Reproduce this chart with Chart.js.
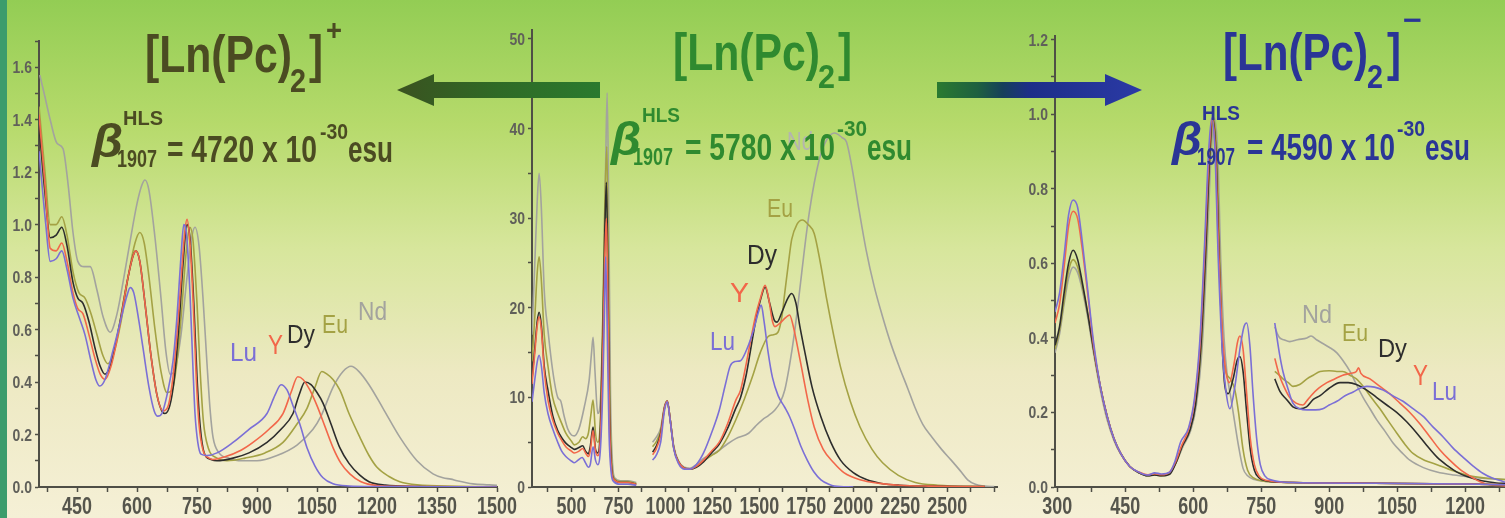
<!DOCTYPE html>
<html>
<head>
<meta charset="utf-8">
<script src="https://cdn.jsdelivr.net/npm/chart.js@4.4.1/dist/chart.umd.min.js"></script>
<style>
  html, body { margin: 0; padding: 0; }
  body {
    width: 1505px; height: 518px; position: relative; overflow: hidden;
    background: linear-gradient(180deg, #93cd54 0%, #b6da6b 24%, #d7e69c 48%, #ede9c2 72%, #f5f0d6 100%);
  }
  #strip { position: absolute; left: 0; top: 0; width: 7px; height: 518px; background: #3c9c6c; }
  canvas { position: absolute; top: 0; }
  #c1 { left: 0; }
  #c2 { left: 490px; }
  #c3 { left: 1010px; }
  svg { position: absolute; left: 0; top: 0; }
  .tx { position: absolute; white-space: nowrap; line-height: 1; transform-origin: 0 0;
        font-family: "Liberation Sans", Arial, sans-serif; }
</style>
</head>
<body>
<div id="strip"></div>
<canvas id="c1" width="520" height="518"></canvas>
<canvas id="c2" width="530" height="518"></canvas>
<canvas id="c3" width="495" height="518"></canvas>
<svg width="1505" height="518">
  <defs>
    <linearGradient id="gl" x1="397" y1="0" x2="600" y2="0" gradientUnits="userSpaceOnUse">
      <stop offset="0" stop-color="#3a5220"/>
      <stop offset="0.5" stop-color="#2f6a26"/>
      <stop offset="1" stop-color="#2a7a2e"/>
    </linearGradient>
    <linearGradient id="gr" x1="937" y1="0" x2="1142" y2="0" gradientUnits="userSpaceOnUse">
      <stop offset="0" stop-color="#2a7a30"/>
      <stop offset="0.2" stop-color="#1e6040"/>
      <stop offset="0.32" stop-color="#16405a"/>
      <stop offset="0.45" stop-color="#1c2e88"/>
      <stop offset="1" stop-color="#2b3aa6"/>
    </linearGradient>
  </defs>
  <polygon points="397,90 434,74 434,82 600,82 600,98 434,98 434,106" fill="url(#gl)"/>
  <polygon points="937,82 1105,82 1105,74 1142,90 1105,106 1105,98 937,98" fill="url(#gr)"/>
</svg>
<script>
// series shared by all three panels
const seriesNames = ["Lu", "Y", "Dy", "Eu", "Nd"];
const seriesColors = ["#7b6fd6", "#f2674a", "#2d2d2d", "#a4a244", "#a3a39e"];

// panel 1: [Ln(Pc)2]+  (wavelength nm, absorbance)
const p1Lu = [[355,1.28],[372,1.0],[383,0.86],[398,0.87],[412,0.90],[425,0.83],[440,0.72],[457,0.64],[470,0.58],[485,0.48],[497,0.41],[507,0.385],[520,0.41],[540,0.52],[560,0.64],[575,0.73],[583,0.76],[592,0.74],[605,0.63],[615,0.53],[630,0.38],[643,0.29],[652,0.27],[662,0.28],[675,0.35],[690,0.48],[700,0.65],[710,0.88],[717,1.0],[724,0.96],[733,0.72],[740,0.45],[745,0.28],[752,0.17],[760,0.125],[775,0.12],[800,0.13],[840,0.17],[880,0.22],[925,0.28],[945,0.35],[960,0.39],[975,0.37],[990,0.31],[1007,0.24],[1025,0.15],[1045,0.08],[1065,0.035],[1090,0.012],[1130,0.004],[1200,0.002],[1500,0.0]];
const p1Y = [[355,1.42],[370,1.15],[383,0.91],[398,0.90],[412,0.93],[425,0.86],[440,0.74],[452,0.68],[465,0.66],[480,0.58],[495,0.49],[508,0.43],[520,0.41],[535,0.46],[555,0.6],[575,0.78],[590,0.88],[597,0.90],[607,0.86],[620,0.70],[635,0.50],[650,0.35],[665,0.29],[678,0.31],[690,0.42],[702,0.62],[712,0.83],[720,0.98],[725,1.02],[732,0.94],[740,0.72],[748,0.42],[755,0.24],[765,0.14],[780,0.11],[790,0.105],[820,0.115],[860,0.14],[890,0.17],[930,0.22],[965,0.28],[985,0.36],[1002,0.42],[1015,0.41],[1032,0.37],[1050,0.31],[1070,0.23],[1090,0.15],[1110,0.09],[1132,0.05],[1160,0.02],[1200,0.006],[1300,0.002],[1500,0.0]];
const p1Dy = [[355,1.38],[370,1.12],[383,0.95],[398,0.96],[412,0.99],[425,0.92],[440,0.78],[452,0.72],[465,0.70],[480,0.63],[495,0.53],[508,0.46],[520,0.43],[535,0.47],[555,0.61],[575,0.78],[590,0.88],[597,0.90],[607,0.86],[620,0.70],[635,0.50],[650,0.35],[662,0.29],[670,0.28],[682,0.31],[693,0.41],[705,0.62],[715,0.85],[725,1.0],[733,0.94],[742,0.7],[750,0.42],[758,0.23],[768,0.13],[785,0.105],[800,0.10],[840,0.11],[880,0.13],[925,0.17],[960,0.22],[990,0.28],[1005,0.35],[1020,0.40],[1035,0.39],[1050,0.36],[1065,0.32],[1085,0.24],[1107,0.15],[1130,0.09],[1157,0.045],[1180,0.02],[1220,0.007],[1300,0.002],[1500,0.0]];
const p1Eu = [[355,1.45],[370,1.2],[383,1.0],[398,1.0],[412,1.03],[425,0.96],[440,0.82],[455,0.74],[470,0.72],[485,0.66],[500,0.58],[515,0.50],[527,0.47],[540,0.5],[560,0.63],[580,0.82],[595,0.93],[607,0.97],[618,0.93],[630,0.80],[645,0.60],[660,0.44],[675,0.36],[688,0.37],[700,0.48],[712,0.68],[722,0.88],[732,0.99],[740,0.94],[750,0.70],[758,0.44],[766,0.25],[778,0.15],[800,0.11],[825,0.10],[870,0.11],[920,0.13],[965,0.17],[1000,0.24],[1025,0.30],[1045,0.38],[1062,0.44],[1075,0.43],[1090,0.41],[1107,0.37],[1130,0.28],[1157,0.19],[1180,0.12],[1200,0.075],[1230,0.04],[1257,0.02],[1300,0.008],[1400,0.003],[1500,0.0]];
const p1Nd = [[357,1.57],[368,1.5],[383,1.40],[400,1.31],[415,1.29],[428,1.15],[440,0.97],[452,0.86],[468,0.84],[483,0.84],[500,0.75],[515,0.65],[533,0.59],[550,0.66],[565,0.78],[582,0.93],[600,1.08],[612,1.15],[620,1.17],[630,1.13],[645,0.95],[660,0.72],[672,0.52],[683,0.43],[695,0.45],[710,0.58],[725,0.80],[738,0.96],[745,0.99],[755,0.92],[765,0.72],[775,0.47],[783,0.29],[790,0.19],[805,0.13],[830,0.11],[860,0.10],[900,0.10],[950,0.12],[1000,0.16],[1040,0.22],[1060,0.27],[1090,0.38],[1115,0.44],[1135,0.46],[1155,0.44],[1180,0.39],[1215,0.30],[1257,0.19],[1300,0.10],[1340,0.05],[1365,0.035],[1385,0.03],[1400,0.024],[1440,0.012],[1480,0.008],[1500,0.006]];

// panel 2: [Ln(Pc)2]  UV-vis part and NIR part
const p2UvLu = [[290,9.5],[305,12],[318,14],[328,14.7],[340,13.5],[355,10.5],[375,8.2],[400,6.5],[427,5.0],[448,4.0],[470,3.4],[500,2.9],[515,2.7],[535,3.0],[557,3.3],[575,2.7],[590,2.2],[600,2.5],[615,4.5],[628,3.0],[640,2.5],[655,4.5],[668,12],[676,20],[682,25.7],[690,18],[700,6],[712,1.5],[725,0.6],[760,0.3],[800,0.3],[845,0.2]];
const p2UvY = [[290,11.5],[305,15],[318,18],[328,19],[340,17.5],[355,13],[375,9.7],[400,7.5],[427,6],[448,5.2],[470,4.5],[500,4.0],[515,3.8],[540,4.0],[560,4.3],[575,3.8],[590,3.4],[600,4.0],[615,6.3],[628,4.0],[640,3.5],[655,6],[668,16],[678,26],[686,30],[693,22],[703,7],[714,1.8],[727,0.8],[760,0.5],[800,0.5],[845,0.3]];
const p2UvDy = [[290,12],[305,15.5],[318,18.5],[328,19.5],[340,18],[355,13.5],[375,10.8],[400,8],[427,6.3],[448,5.5],[470,4.9],[500,4.4],[515,4.2],[540,4.4],[560,4.6],[575,4.0],[590,3.7],[600,4.5],[615,6.7],[628,4.2],[640,3.8],[655,7],[668,18],[678,29],[686,34],[693,25],[703,8],[714,2],[727,0.8],[760,0.5],[800,0.5],[845,0.3]];
const p2UvEu = [[290,14],[305,19],[318,24],[328,25.7],[340,23],[355,17],[375,13.5],[400,10],[427,8.2],[448,7.1],[470,6],[500,5.1],[515,4.7],[540,5.0],[560,5.6],[575,5.4],[590,6],[603,8],[615,9.7],[628,6],[640,5],[655,8],[668,20],[678,32],[688,38],[695,28],[705,9],[716,2.2],[729,0.9],[760,0.6],[800,0.6],[845,0.4]];
const p2UvNd = [[290,17],[305,25],[318,32],[328,35],[340,31],[355,22],[375,17.5],[400,13],[427,10],[443,9.6],[460,8],[480,6.5],[500,5.8],[515,5.7],[540,6.5],[568,8.9],[594,11.9],[607,15],[615,16.7],[625,13],[640,8.2],[655,10],[670,22],[682,36],[690,44],[698,32],[708,10],[719,2.5],[731,1.0],[760,0.7],[800,0.7],[845,0.5]];
const p2NirLu = [[932,3.0],[950,3.5],[975,5.0],[995,8.5],[1010,9.5],[1025,7.5],[1045,4.2],[1070,2.6],[1100,2.0],[1130,2.0],[1165,2.5],[1203,3.8],[1245,6],[1287,8.6],[1320,11.5],[1345,13.5],[1370,14],[1400,14.1],[1430,15.2],[1469,17.5],[1495,19.5],[1510,20.3],[1525,18.5],[1547,15],[1570,12.2],[1600,10.2],[1635,8.9],[1660,7.9],[1687,6.5],[1720,4.6],[1755,3.0],[1790,1.7],[1828,0.8],[1870,0.3],[1900,0.1],[2000,0.0]];
const p2NirY = [[932,3.6],[950,4.2],[975,5.8],[995,8.8],[1010,9.6],[1025,7.6],[1045,4.3],[1070,2.8],[1100,2.1],[1130,2.0],[1165,2.3],[1203,3.0],[1245,4.0],[1287,5.0],[1330,7],[1375,9.7],[1400,10.8],[1427,13.4],[1455,16.5],[1479,19.0],[1505,21],[1531,22.5],[1550,21],[1570,18.5],[1583,17.9],[1610,18.3],[1640,18.9],[1661,19.2],[1680,18],[1700,16],[1724,13.4],[1760,9.5],[1792,6.7],[1840,4.2],[1896,2.7],[1950,1.6],[2036,0.8],[2140,0.4],[2245,0.2],[2400,0.1],[2700,0.05]];
const p2NirDy = [[932,3.9],[950,4.5],[975,6],[995,8.8],[1010,9.6],[1025,7.6],[1045,4.3],[1070,2.8],[1100,2.1],[1130,2.0],[1165,2.2],[1203,2.8],[1245,3.8],[1287,4.8],[1330,6.5],[1375,8.8],[1400,10],[1430,12.5],[1455,15.5],[1480,18.5],[1505,20.8],[1531,22.3],[1555,20.5],[1580,18.6],[1594,18.4],[1620,19.5],[1650,21],[1672,21.6],[1695,20.5],[1715,18],[1740,15.3],[1780,11.2],[1828,7.8],[1880,5.0],[1932,3.0],[2000,1.6],[2073,0.8],[2150,0.4],[2245,0.2],[2400,0.1],[2700,0.05]];
const p2NirEu = [[932,4.5],[950,5],[975,6.3],[995,8.9],[1010,9.6],[1025,7.6],[1045,4.4],[1070,2.8],[1100,2.1],[1130,2.0],[1165,2.3],[1203,2.9],[1245,3.5],[1287,4.1],[1330,5.5],[1375,7.5],[1420,9.8],[1463,12.3],[1505,15],[1547,16.8],[1575,17],[1600,17.3],[1620,19],[1635,21.6],[1655,25],[1672,27.6],[1700,29.3],[1729,29.8],[1760,29.3],[1792,28.3],[1825,25],[1859,20.9],[1895,17],[1932,13.4],[1985,9.5],[2036,6.7],[2100,4.2],[2156,2.7],[2240,1.3],[2330,0.5],[2450,0.2],[2700,0.05]];
const p2NirNd = [[932,5.0],[950,5.5],[975,6.6],[995,9.0],[1010,9.6],[1025,7.6],[1045,4.5],[1070,2.9],[1100,2.2],[1130,2.1],[1165,2.5],[1203,3.2],[1245,3.6],[1287,4.1],[1330,4.8],[1375,5.4],[1443,6.0],[1480,6.8],[1516,7.5],[1550,8.0],[1583,8.6],[1610,9.4],[1635,10.8],[1660,13.5],[1687,17.2],[1715,22],[1740,26.5],[1765,30.5],[1792,33.9],[1825,37],[1860,38.8],[1900,39.5],[1940,39],[1964,38.5],[1990,36],[2030,31],[2068,26.5],[2110,22.5],[2156,19.0],[2200,16],[2245,13.4],[2290,11],[2328,8.9],[2370,7],[2417,5.6],[2470,4.2],[2521,3.0],[2570,1.8],[2609,0.8],[2650,0.3],[2700,0.1],[2750,0.05]];

// panel 3: [Ln(Pc)2]-  UV-vis part and NIR part
const p3UvLu = [[295,0.47],[305,0.52],[315,0.62],[325,0.73],[335,0.77],[345,0.75],[355,0.66],[368,0.52],[380,0.39],[395,0.27],[410,0.19],[425,0.13],[440,0.09],[460,0.055],[480,0.04],[500,0.032],[515,0.038],[530,0.035],[548,0.04],[560,0.07],[572,0.12],[590,0.16],[603,0.24],[615,0.40],[625,0.65],[634,0.90],[641,0.99],[648,0.9],[655,0.62],[664,0.37],[672,0.26],[681,0.21],[692,0.27],[703,0.37],[712,0.43],[718,0.44],[725,0.38],[732,0.25],[740,0.13],[748,0.06],[758,0.03],[775,0.018],[820,0.012],[1000,0.01],[1200,0.008],[1288,0.006]];
const p3UvY = [[295,0.44],[305,0.49],[315,0.59],[325,0.70],[335,0.74],[345,0.72],[355,0.64],[368,0.51],[380,0.38],[395,0.27],[410,0.19],[425,0.13],[440,0.09],[460,0.055],[480,0.04],[500,0.033],[515,0.036],[530,0.033],[548,0.04],[562,0.07],[574,0.11],[590,0.155],[603,0.23],[615,0.38],[625,0.62],[635,0.89],[642,0.99],[649,0.9],[656,0.64],[664,0.42],[672,0.31],[680,0.28],[690,0.33],[698,0.39],[703,0.405],[710,0.37],[718,0.25],[726,0.13],[735,0.06],[745,0.03],[760,0.018],[820,0.012],[1000,0.01],[1200,0.008],[1288,0.006]];
const p3UvDy = [[295,0.38],[305,0.43],[315,0.52],[325,0.60],[335,0.635],[345,0.61],[355,0.55],[368,0.46],[380,0.37],[395,0.27],[410,0.19],[425,0.13],[440,0.09],[460,0.055],[480,0.038],[500,0.03],[515,0.032],[530,0.03],[548,0.034],[562,0.065],[576,0.11],[592,0.15],[605,0.22],[617,0.38],[627,0.62],[636,0.88],[643,0.99],[650,0.9],[657,0.62],[664,0.38],[670,0.27],[677,0.25],[688,0.29],[697,0.34],[703,0.35],[710,0.31],[718,0.2],[726,0.1],[735,0.045],[745,0.025],[760,0.017],[820,0.012],[1000,0.01],[1200,0.008],[1288,0.006]];
const p3UvEu = [[295,0.37],[305,0.42],[315,0.5],[325,0.58],[335,0.61],[345,0.59],[355,0.54],[368,0.46],[380,0.37],[395,0.27],[410,0.19],[425,0.13],[440,0.09],[460,0.055],[480,0.038],[500,0.03],[515,0.033],[530,0.03],[548,0.036],[562,0.065],[576,0.11],[592,0.15],[605,0.22],[618,0.38],[628,0.62],[637,0.88],[645,0.99],[652,0.9],[659,0.6],[665,0.38],[672,0.31],[682,0.29],[692,0.26],[700,0.2],[710,0.1],[720,0.045],[732,0.025],[750,0.017],[820,0.012],[1000,0.01],[1200,0.008],[1288,0.006]];
const p3UvNd = [[295,0.36],[305,0.41],[315,0.49],[325,0.56],[335,0.59],[345,0.575],[355,0.53],[368,0.45],[380,0.36],[395,0.26],[410,0.18],[425,0.125],[440,0.088],[460,0.055],[480,0.038],[500,0.03],[515,0.033],[530,0.03],[548,0.038],[562,0.065],[578,0.11],[594,0.15],[607,0.22],[620,0.38],[630,0.62],[639,0.88],[647,0.99],[654,0.9],[661,0.6],[668,0.4],[675,0.3],[683,0.24],[692,0.17],[700,0.11],[710,0.05],[720,0.03],[735,0.02],[760,0.015],[820,0.012],[1000,0.01],[1200,0.008],[1288,0.006]];
const p3NirLu = [[780,0.44],[790,0.36],[798,0.31],[810,0.26],[820,0.225],[835,0.21],[851,0.207],[870,0.207],[886,0.21],[900,0.22],[917,0.23],[935,0.245],[953,0.255],[968,0.265],[983,0.27],[1000,0.268],[1019,0.26],[1040,0.245],[1063,0.23],[1085,0.21],[1107,0.19],[1130,0.16],[1151,0.135],[1173,0.105],[1195,0.08],[1217,0.057],[1239,0.037],[1260,0.024],[1283,0.015],[1288,0.013]];
const p3NirY = [[780,0.345],[790,0.3],[800,0.27],[813,0.24],[827,0.225],[842,0.22],[850,0.23],[860,0.245],[877,0.265],[895,0.28],[912,0.29],[930,0.30],[948,0.305],[960,0.31],[965,0.32],[970,0.305],[990,0.29],[1012,0.27],[1034,0.25],[1056,0.225],[1078,0.20],[1100,0.17],[1122,0.135],[1144,0.10],[1166,0.072],[1188,0.048],[1210,0.03],[1232,0.015],[1254,0.006],[1275,0.004],[1288,0.003]];
const p3NirDy = [[780,0.29],[792,0.255],[806,0.235],[820,0.215],[835,0.21],[850,0.215],[865,0.235],[880,0.245],[900,0.265],[924,0.28],[942,0.28],[960,0.275],[983,0.26],[1005,0.24],[1027,0.22],[1049,0.20],[1071,0.175],[1093,0.145],[1115,0.112],[1138,0.08],[1160,0.058],[1182,0.04],[1204,0.028],[1225,0.02],[1250,0.014],[1280,0.01],[1288,0.01]];
const p3NirEu = [[780,0.31],[790,0.30],[798,0.29],[810,0.28],[820,0.27],[835,0.275],[851,0.29],[865,0.30],[880,0.31],[900,0.312],[917,0.31],[930,0.31],[946,0.30],[960,0.29],[975,0.27],[993,0.24],[1012,0.21],[1030,0.178],[1049,0.145],[1067,0.115],[1085,0.09],[1110,0.072],[1138,0.06],[1170,0.045],[1210,0.03],[1245,0.024],[1288,0.02]];
const p3NirNd = [[780,0.43],[786,0.41],[791,0.40],[800,0.395],[813,0.39],[830,0.395],[851,0.40],[860,0.405],[872,0.395],[886,0.385],[900,0.375],[917,0.36],[930,0.34],[946,0.31],[960,0.275],[975,0.24],[990,0.21],[1005,0.18],[1023,0.15],[1041,0.118],[1060,0.093],[1078,0.072],[1108,0.052],[1138,0.04],[1175,0.032],[1210,0.027],[1245,0.023],[1288,0.02]];

// tick labels
const p1XTicks = [450, 600, 750, 900, 1050, 1200, 1350, 1500];
const p1YTicks = [0, 0.2, 0.4, 0.6, 0.8, 1.0, 1.2, 1.4, 1.6];
const p2XTicks = [500, 750, 1000, 1250, 1500, 1750, 2000, 2250, 2500];
const p2YTicks = [0, 10, 20, 30, 40, 50];
const p3XTicks = [300, 450, 600, 750, 900, 1050, 1200];
const p3YTicks = [0, 0.2, 0.4, 0.6, 0.8, 1.0, 1.2];

const axisColor = "#4f4f46";
const labelFamily = "'Liberation Sans', Arial, sans-serif";

function withMinors(majors, lo, hi) {
  // majors plus a tick half way between each pair, kept inside the axis range
  const step = majors[1] - majors[0];
  const out = [];
  for (let v = majors[0] - step / 2; v >= lo - 1e-9; v -= step / 2) out.unshift(v);
  for (let v = majors[0]; v <= hi + 1e-9; v += step / 2) out.push(+v.toFixed(4));
  return out;
}

function toPoints(pairs) {
  return pairs.map(p => ({ x: p[0], y: p[1] }));
}

// tick labels in a condensed bold face, placed with the chart's own scales
const narrowLabels = {
  id: "narrowLabels",
  afterDraw(chart, args, o) {
    const ctx = chart.ctx, xs = chart.scales.x, ys = chart.scales.y;
    ctx.save();
    ctx.font = "bold 23px " + labelFamily;
    ctx.fillStyle = "#55554c";
    ctx.textAlign = "center";
    ctx.textBaseline = "alphabetic";
    o.xTicks.forEach(v => {
      ctx.save();
      ctx.translate(xs.getPixelForValue(v), xs.bottom - 4);
      ctx.scale(0.78, 1);
      ctx.fillText(String(v), 0, 0);
      ctx.restore();
    });
    ctx.font = "bold 17px " + labelFamily;
    ctx.fillStyle = "#60605a";
    ctx.textAlign = "right";
    o.yTicks.forEach(v => {
      ctx.save();
      ctx.translate(ys.right - 7, ys.getPixelForValue(v) + 6);
      ctx.scale(0.82, 1);
      ctx.fillText(o.dec ? v.toFixed(1) : String(v), 0, 0);
      ctx.restore();
    });
    ctx.restore();
  }
};

function makePanel(id, groups, p) {
  const datasets = [];
  groups.forEach(group => {
    group.forEach((pairs, i) => {
      datasets.push({
        label: seriesNames[i],
        data: toPoints(pairs),
        borderColor: seriesColors[i],
        borderWidth: 1.6,
        pointRadius: 0,
        fill: false,
        cubicInterpolationMode: "monotone"
      });
    });
  });
  const xAll = withMinors(p.xTicks, p.xMin, p.xMax);
  const yAll = withMinors(p.yTicks, p.yMin, p.yMax);
  return new Chart(document.getElementById(id), {
    type: "line",
    data: { datasets },
    plugins: [narrowLabels],
    options: {
      responsive: false,
      animation: false,
      events: [],
      layout: { padding: { top: p.padTop, right: p.padRight, left: 0, bottom: 0 } },
      plugins: {
        legend: { display: false },
        tooltip: { enabled: false },
        narrowLabels: { xTicks: p.xTicks, yTicks: p.yTicks, dec: p.dec }
      },
      scales: {
        x: {
          type: "linear", min: p.xMin, max: p.xMax,
          afterBuildTicks: s => { s.ticks = xAll.map(v => ({ value: v })); },
          afterFit: s => { s.height = 31; },
          border: { color: axisColor, width: 2 },
          grid: { drawOnChartArea: false, tickLength: 5, tickColor: axisColor, tickWidth: 1.5 },
          ticks: { autoSkip: false, maxRotation: 0, callback: () => "" }
        },
        y: {
          type: "linear", min: p.yMin, max: p.yMax,
          afterBuildTicks: s => { s.ticks = yAll.map(v => ({ value: v })); },
          afterFit: s => { s.width = p.yWidth; },
          border: { color: axisColor, width: 2 },
          grid: { drawOnChartArea: false, tickLength: 4, tickColor: axisColor, tickWidth: 1.5 },
          ticks: { autoSkip: false, callback: () => "" }
        }
      }
    }
  });
}

makePanel("c1", [[p1Lu, p1Y, p1Dy, p1Eu, p1Nd]], {
  xMin: 355, xMax: 1500, yMin: 0, yMax: 1.7, xTicks: p1XTicks, yTicks: p1YTicks,
  padTop: 41, padRight: 23, yWidth: 39, dec: true
});
makePanel("c2", [[p2UvLu, p2UvY, p2UvDy, p2UvEu, p2UvNd], [p2NirLu, p2NirY, p2NirDy, p2NirEu, p2NirNd]], {
  xMin: 290, xMax: 2765, yMin: 0, yMax: 51, xTicks: p2XTicks, yTicks: p2YTicks,
  padTop: 30, padRight: 23, yWidth: 42, dec: false
});
makePanel("c3", [[p3UvLu, p3UvY, p3UvDy, p3UvEu, p3UvNd], [p3NirLu, p3NirY, p3NirDy, p3NirEu, p3NirNd]], {
  xMin: 295, xMax: 1288, yMin: 0, yMax: 1.21, xTicks: p3XTicks, yTicks: p3YTicks,
  padTop: 36, padRight: 0, yWidth: 45, dec: true
});

// text: left edge, baseline, font size, colour, width to squeeze the text into
function put(txt, x, base, size, color, w, opt) {
  opt = opt || {};
  const el = document.createElement("div");
  el.className = "tx";
  el.textContent = txt;
  el.style.fontSize = size + "px";
  el.style.fontWeight = opt.regular ? "normal" : "bold";
  if (opt.italic) el.style.fontStyle = "italic";
  el.style.color = color;
  el.style.left = x + "px";
  el.style.top = (base - 0.8465 * size) + "px";
  document.body.appendChild(el);
  const nat = el.getBoundingClientRect().width;
  el.style.transform = "scaleX(" + (w / nat).toFixed(3) + ")";
}

const t1 = "#4b4b22", t2 = "#2f8a2f", t3 = "#2a3596";
const reg = { regular: true };

// curve labels
put("Lu", 230, 361, 25, seriesColors[0], 27, reg);
put("Y", 268, 355, 27, seriesColors[1], 15, reg);
put("Dy", 287, 343, 26, seriesColors[2], 28, reg);
put("Eu", 322, 333, 25, seriesColors[3], 26, reg);
put("Nd", 358, 320, 25, seriesColors[4], 29, reg);

put("Nd", 787, 150, 25, "#b4b4b0", 26, reg);
put("Eu", 767, 217, 25, seriesColors[3], 26, reg);
put("Dy", 747, 265, 27, seriesColors[2], 30, reg);
put("Y", 730, 303, 28, seriesColors[1], 19, reg);
put("Lu", 710, 350, 25, seriesColors[0], 25, reg);

put("Nd", 1302, 323, 26, seriesColors[4], 30, reg);
put("Eu", 1342, 341, 24, seriesColors[3], 26, reg);
put("Dy", 1378, 357, 26, seriesColors[2], 29, reg);
put("Y", 1413, 385, 30, seriesColors[1], 15, reg);
put("Lu", 1432, 400, 26, seriesColors[0], 25, reg);

// titles
put("[Ln(Pc)", 145, 72, 52, t1, 147);
put("2", 290, 92, 34, t1, 16);
put("]", 309, 72, 52, t1, 14);
put("+", 326, 40, 30, t1, 16);
put("\u03B2", 92, 157, 46, t1, 31, { italic: true });
put("HLS", 123, 125, 21, t1, 40);
put("1907", 117, 167, 24, t1, 40);
put("= 4720 x 10", 167, 162, 37, t1, 150);
put("-30", 320, 140, 22, t1, 28);
put("esu", 348, 162, 37, t1, 45);

put("[Ln(Pc)", 673, 70, 52, t2, 147);
put("2", 818, 88, 34, t2, 17);
put("]", 838, 70, 52, t2, 14);
put("\u03B2", 611, 155, 46, t2, 30, { italic: true });
put("HLS", 642, 122, 21, t2, 38);
put("1907", 633, 165, 24, t2, 40);
put("= 5780 x 10", 685, 160, 37, t2, 150);
put("-30", 837, 137, 22, t2, 30);
put("esu", 867, 160, 37, t2, 45);

put("[Ln(Pc)", 1223, 70, 52, t3, 145);
put("2", 1367, 88, 34, t3, 16);
put("]", 1387, 70, 52, t3, 14);
put("\u2212", 1403, 30, 30, t3, 19);
put("\u03B2", 1172, 155, 46, t3, 30, { italic: true });
put("HLS", 1202, 120, 21, t3, 38);
put("1907", 1197, 165, 24, t3, 38);
put("= 4590 x 10", 1247, 160, 37, t3, 148);
put("-30", 1397, 137, 22, t3, 28);
put("esu", 1425, 160, 37, t3, 45);
</script>
</body>
</html>
